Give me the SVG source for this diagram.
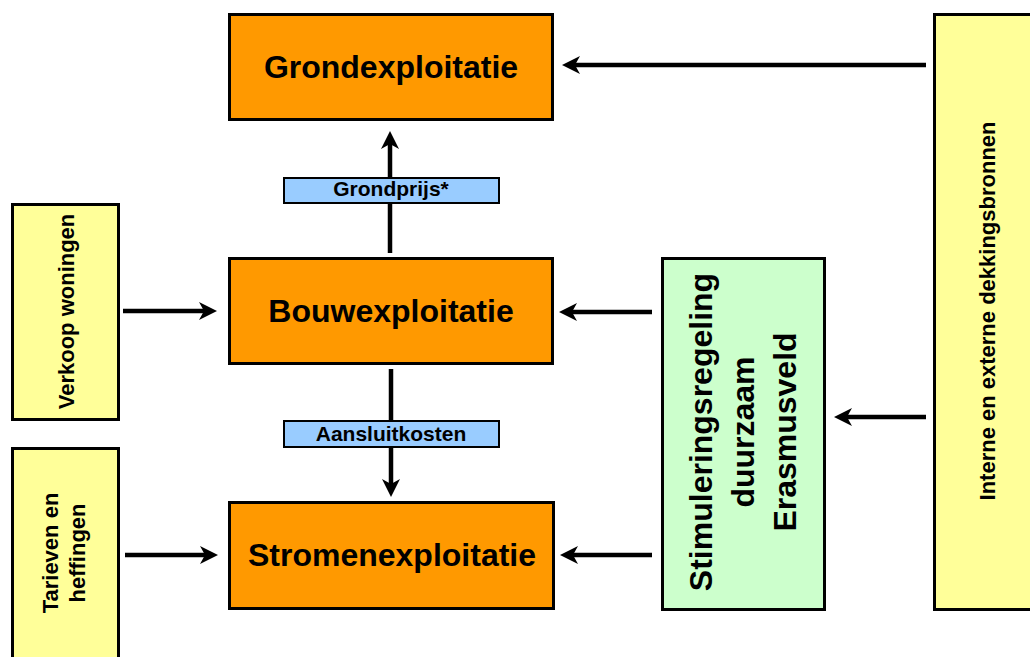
<svg xmlns="http://www.w3.org/2000/svg" width="1030" height="657" viewBox="0 0 1030 657">
<style>
.box{stroke:#000;stroke-width:3}
.or{fill:#FF9900}
.ye{fill:#FFFF99}
.gr{fill:#CCFFCC}
.bl{fill:#99CCFF;stroke:#000;stroke-width:2}
text{font-family:"Liberation Sans",Arial,sans-serif;font-weight:bold;fill:#000;text-anchor:middle}
.big{font-size:32px}
.lab{font-size:21px}
.side{font-size:22px}
.stim{font-size:32px}
.conn line{stroke:#000;stroke-width:4.5;marker-end:url(#ah)}
</style>
<defs>
<marker id="ah" markerUnits="userSpaceOnUse" viewBox="0 -10 20 20" markerWidth="20" markerHeight="20" refX="5" refY="0" orient="auto">
<path d="M18,0 L0,-9 L5,0 L0,9 Z" fill="#000"/>
</marker>
</defs>
<rect width="1030" height="657" fill="#fff"/>

<g id="connectors" class="conn">
<line x1="926" y1="65" x2="575" y2="65"/>
<line x1="926" y1="417" x2="847" y2="417"/>
<line x1="652" y1="312" x2="572" y2="312"/>
<line x1="652" y1="555" x2="573" y2="555"/>
<line x1="123" y1="311" x2="204" y2="311"/>
<line x1="125" y1="555" x2="205" y2="555"/>
<line x1="390" y1="253" x2="390" y2="144"/>
<line x1="391" y1="369" x2="391" y2="484"/>
</g>

<g id="grondexploitatie">
<rect class="box or" x="229.5" y="14.5" width="323" height="105"/>
<text class="big" x="391" y="78">Grondexploitatie</text>
</g>
<g id="bouwexploitatie">
<rect class="box or" x="229.5" y="258.5" width="323" height="105"/>
<text class="big" x="391" y="322">Bouwexploitatie</text>
</g>
<g id="stromenexploitatie">
<rect class="box or" x="229.5" y="502.5" width="324" height="106"/>
<text class="big" x="392" y="566">Stromenexploitatie</text>
</g>
<g id="grondprijs">
<rect class="bl" x="284" y="178" width="215" height="25"/>
<text class="lab" x="391" y="196">Grondprijs*</text>
</g>
<g id="aansluitkosten">
<rect class="bl" x="284" y="421" width="215" height="26"/>
<text class="lab" x="391" y="441">Aansluitkosten</text>
</g>
<g id="verkoop-woningen">
<rect class="box ye" x="12.5" y="204.5" width="106" height="215"/>
<text class="side" transform="translate(74,311.5) rotate(-90)">Verkoop woningen</text>
</g>
<g id="tarieven-heffingen">
<rect class="box ye" x="12.5" y="448.5" width="106" height="215"/>
<text class="side" transform="translate(58,553) rotate(-90)">Tarieven en</text>
<text class="side" transform="translate(85,553) rotate(-90)">heffingen</text>
</g>
<g id="stimuleringsregeling">
<rect class="box gr" x="662.5" y="258.5" width="162" height="351"/>
<text class="stim" transform="translate(712,432) rotate(-90)">Stimuleringsregeling</text>
<text class="stim" transform="translate(754,432) rotate(-90)">duurzaam</text>
<text class="stim" transform="translate(796,432) rotate(-90)">Erasmusveld</text>
</g>
<g id="dekkingsbronnen">
<rect class="box ye" x="934.5" y="14.5" width="110" height="595"/>
<text class="side" transform="translate(995,311) rotate(-90)">Interne en externe dekkingsbronnen</text>
</g>
</svg>
